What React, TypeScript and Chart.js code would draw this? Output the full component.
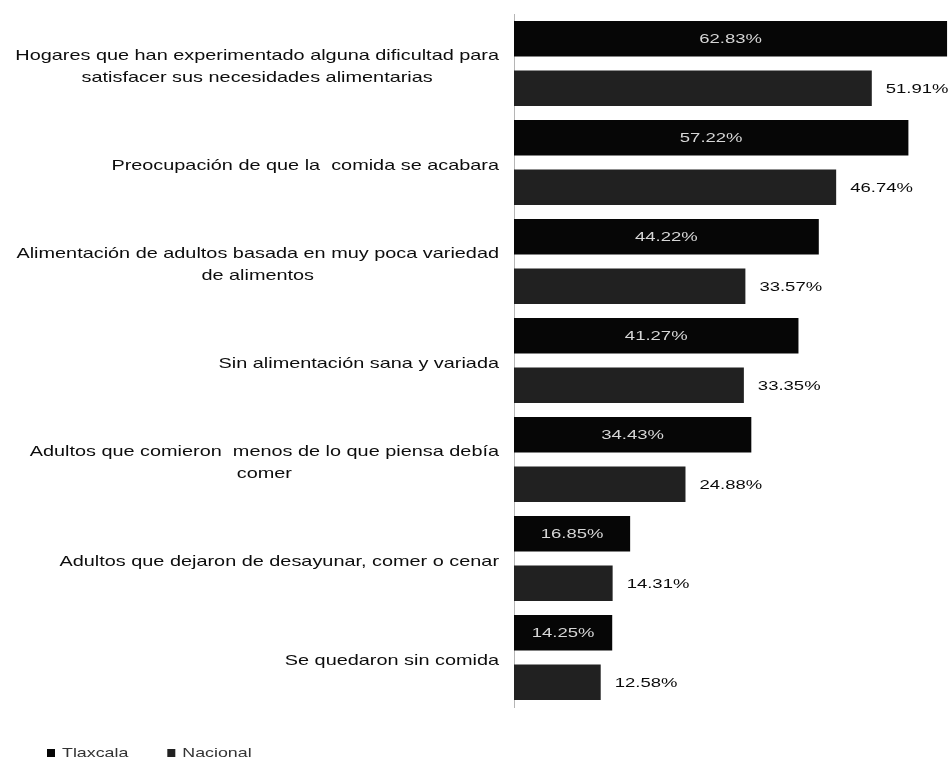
import React, { useEffect, useRef } from "react";
import { Chart, registerables } from "chart.js";

Chart.register(...registerables);

const categories: (string | string[])[] = [
  ["Hogares que han experimentado alguna dificultad para", "satisfacer sus necesidades alimentarias"],
  "Preocupación de que la  comida se acabara",
  ["Alimentación de adultos basada en muy poca variedad", "de alimentos"],
  "Sin alimentación sana y variada",
  ["Adultos que comieron  menos de lo que piensa debía", "comer"],
  "Adultos que dejaron de desayunar, comer o cenar",
  "Se quedaron sin comida",
];

const seriesNames = ["Tlaxcala", "Nacional"];
const tlaxcala = [62.83, 57.22, 44.22, 41.27, 34.43, 16.85, 14.25];
const nacional = [51.91, 46.74, 33.57, 33.35, 24.88, 14.31, 12.58];
const seriesColors = ["#060606", "#212121"];

const FONT = "'Liberation Sans', Arial, sans-serif";
const SX = 1.37;

const labelPlugin = {
  id: "customLabels",
  afterDatasetsDraw(chart: any) {
    const ctx = chart.ctx as CanvasRenderingContext2D;
    ctx.save();
    ctx.font = `13.5px ${FONT}`;
    ctx.textBaseline = "middle";
    chart.data.datasets.forEach((ds: any, di: number) => {
      const meta = chart.getDatasetMeta(di);
      meta.data.forEach((bar: any, i: number) => {
        const v = ds.data[i] as number;
        const text = `${v.toFixed(2)}%`;
        ctx.save();
        if (di === 0) {
          const cx = (bar.x + bar.base) / 2;
          ctx.translate(cx, bar.y + 1);
          ctx.scale(SX, 1);
          ctx.textAlign = "center";
          ctx.fillStyle = "#d6d6d6";
        } else {
          ctx.translate(bar.x + 14, bar.y + 1);
          ctx.scale(SX, 1);
          ctx.textAlign = "left";
          ctx.fillStyle = "#0a0a0a";
        }
        ctx.fillText(text, 0, 0);
        ctx.restore();
      });
    });
    ctx.restore();
  },
  afterDraw(chart: any) {
    const ctx = chart.ctx as CanvasRenderingContext2D;
    const yScale = chart.scales.y;
    ctx.save();
    // category labels
    ctx.font = `14.5px ${FONT}`;
    ctx.textBaseline = "middle";
    ctx.fillStyle = "#0d0d0d";
    const rightEdge = 499;
    (chart.data.labels as (string | string[])[]).forEach((lab, i) => {
      const lines = Array.isArray(lab) ? lab : [lab];
      const widths = lines.map((l) => ctx.measureText(l).width * SX);
      const maxW = Math.max(...widths);
      const cx = rightEdge - maxW / 2;
      const cy = yScale.getPixelForValue(i) + 3;
      lines.forEach((l, li) => {
        const y = cy + (li - (lines.length - 1) / 2) * 22;
        ctx.save();
        ctx.translate(cx, y);
        ctx.scale(SX, 1);
        ctx.textAlign = "center";
        ctx.fillText(l, 0, 0);
        ctx.restore();
      });
    });
    // legend
    ctx.font = `13px ${FONT}`;
    ctx.textBaseline = "middle";
    let x = 47;
    const ly = 753;
    chart.data.datasets.forEach((ds: any) => {
      ctx.fillStyle = ds.backgroundColor;
      ctx.fillRect(x, ly - 4, 8, 8);
      ctx.fillStyle = "#333333";
      const w = ctx.measureText(ds.label).width * SX;
      ctx.save();
      ctx.translate(x + 15, ly);
      ctx.scale(SX, 1);
      ctx.textAlign = "left";
      ctx.fillText(ds.label, 0, 0);
      ctx.restore();
      x += 15 + w + 39;
    });
    ctx.restore();
  },
};

export default function App() {
  const ref = useRef<HTMLCanvasElement | null>(null);
  useEffect(() => {
    if (!ref.current) return;
    const chart = new Chart(ref.current, {
      type: "bar",
      data: {
        labels: categories,
        datasets: [
          {
            label: seriesNames[0],
            data: tlaxcala,
            backgroundColor: seriesColors[0],
            borderWidth: 0,
            categoryPercentage: 1.0,
            barPercentage: 0.72,
          },
          {
            label: seriesNames[1],
            data: nacional,
            backgroundColor: seriesColors[1],
            borderWidth: 0,
            categoryPercentage: 1.0,
            barPercentage: 0.72,
          },
        ],
      },
      options: {
        indexAxis: "y",
        responsive: false,
        animation: false,
        layout: { padding: { top: 14, bottom: 52, left: 0, right: 0 } },
        plugins: {
          legend: { display: false },
          tooltip: { enabled: false },
        },
        scales: {
          x: {
            display: false,
            min: 0,
            max: 63.4,
          },
          y: {
            grid: { display: false, drawTicks: false },
            border: { display: true, color: "#b5b5b5", width: 1 },
            ticks: { display: false },
            afterFit: (scale: any) => {
              scale.width = 514;
            },
          },
        },
      },
      plugins: [labelPlugin],
    });
    return () => chart.destroy();
  }, []);
  return (
    <div style={{ position: "fixed", left: 0, top: 0, width: 951, height: 759, background: "#ffffff" }}>
      <canvas ref={ref} width={951} height={759} style={{ display: "block" }} />
    </div>
  );
}
